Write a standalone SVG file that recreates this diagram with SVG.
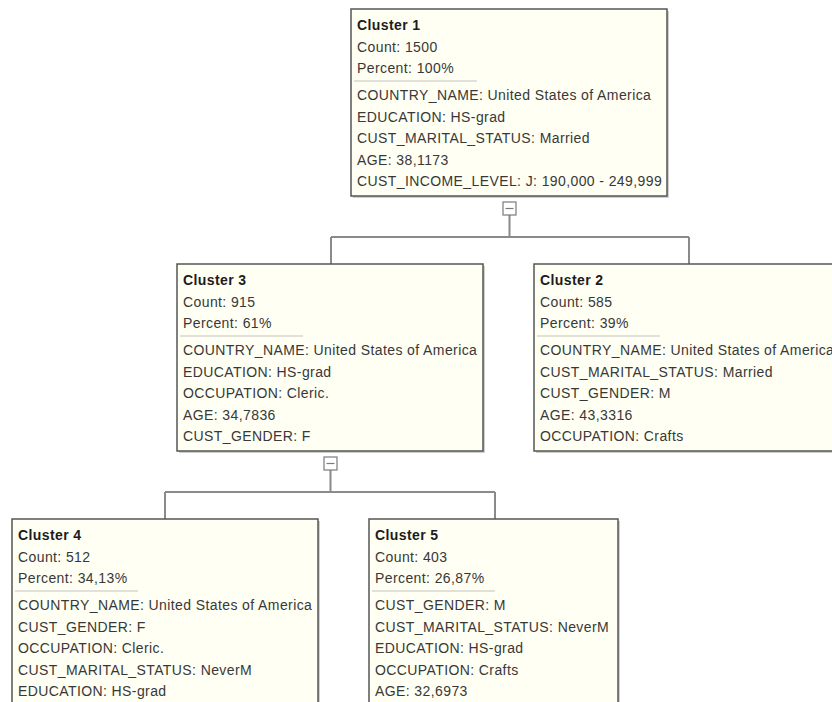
<svg xmlns="http://www.w3.org/2000/svg" width="832" height="702" viewBox="0 0 832 702">
<defs>
<style>
.box{fill:#fffff3;stroke:#555;stroke-width:1.5}
.shadow{fill:#a8a8a8;opacity:0.55}
.sep{stroke:#c4c4c0;stroke-width:1.2}
.t{font-family:"Liberation Sans",Arial,sans-serif;font-size:14px;letter-spacing:0.4px;fill:#383838}
.h{font-family:"Liberation Sans",Arial,sans-serif;font-size:14px;font-weight:bold;letter-spacing:0.4px;fill:#1c1c1c}
.conn{fill:none;stroke:#8a8a8a;stroke-width:2}
.tog{fill:#ffffff;stroke:#7a7a7a;stroke-width:1.2}
.togm{stroke:#7a7a7a;stroke-width:1.2}
</style>
</defs>
<rect width="832" height="702" fill="#ffffff"/>
<g id="connectors">
<path class="conn" d="M509.5 215 V237 M331 237 H689 M331 237 V264 M689 237 V264"/>
<path class="conn" d="M330.5 470 V492 M165 492 H495 M165 492 V519 M495 492 V519"/>
<rect class="tog" x="503" y="202" width="13" height="13"/>
<line class="togm" x1="505.5" y1="208.5" x2="513.5" y2="208.5"/>
<rect class="tog" x="324" y="457" width="13" height="13"/>
<line class="togm" x1="326.5" y1="463.5" x2="334.5" y2="463.5"/>
</g>
<g id="cluster1" transform="translate(351,9)">
<rect class="shadow" x="2" y="2" width="316" height="187"/>
<rect class="box" x="0" y="0" width="316" height="187"/>
<text class="h" x="6" y="21">Cluster 1</text>
<text class="t" x="6" y="42.5">Count: 1500</text>
<text class="t" x="6" y="64">Percent: 100%</text>
<line class="sep" x1="3" y1="72" x2="126" y2="72"/>
<text class="t" x="6" y="91">COUNTRY_NAME: United States of America</text>
<text class="t" x="6" y="112.5">EDUCATION: HS-grad</text>
<text class="t" x="6" y="134">CUST_MARITAL_STATUS: Married</text>
<text class="t" x="6" y="155.5">AGE: 38,1173</text>
<text class="t" x="6" y="177">CUST_INCOME_LEVEL: J: 190,000 - 249,999</text>
</g>
<g id="cluster3" transform="translate(177,264)">
<rect class="shadow" x="2" y="2" width="306" height="187"/>
<rect class="box" x="0" y="0" width="306" height="187"/>
<text class="h" x="6" y="21">Cluster 3</text>
<text class="t" x="6" y="42.5">Count: 915</text>
<text class="t" x="6" y="64">Percent: 61%</text>
<line class="sep" x1="3" y1="72" x2="126" y2="72"/>
<text class="t" x="6" y="91">COUNTRY_NAME: United States of America</text>
<text class="t" x="6" y="112.5">EDUCATION: HS-grad</text>
<text class="t" x="6" y="134">OCCUPATION: Cleric.</text>
<text class="t" x="6" y="155.5">AGE: 34,7836</text>
<text class="t" x="6" y="177">CUST_GENDER: F</text>
</g>
<g id="cluster2" transform="translate(534,264)">
<rect class="shadow" x="2" y="2" width="310" height="187"/>
<rect class="box" x="0" y="0" width="310" height="187"/>
<text class="h" x="6" y="21">Cluster 2</text>
<text class="t" x="6" y="42.5">Count: 585</text>
<text class="t" x="6" y="64">Percent: 39%</text>
<line class="sep" x1="3" y1="72" x2="126" y2="72"/>
<text class="t" x="6" y="91">COUNTRY_NAME: United States of America</text>
<text class="t" x="6" y="112.5">CUST_MARITAL_STATUS: Married</text>
<text class="t" x="6" y="134">CUST_GENDER: M</text>
<text class="t" x="6" y="155.5">AGE: 43,3316</text>
<text class="t" x="6" y="177">OCCUPATION: Crafts</text>
</g>
<g id="cluster4" transform="translate(12,519)">
<rect class="shadow" x="2" y="2" width="306" height="187"/>
<rect class="box" x="0" y="0" width="306" height="187"/>
<text class="h" x="6" y="21">Cluster 4</text>
<text class="t" x="6" y="42.5">Count: 512</text>
<text class="t" x="6" y="64">Percent: 34,13%</text>
<line class="sep" x1="3" y1="72" x2="126" y2="72"/>
<text class="t" x="6" y="91">COUNTRY_NAME: United States of America</text>
<text class="t" x="6" y="112.5">CUST_GENDER: F</text>
<text class="t" x="6" y="134">OCCUPATION: Cleric.</text>
<text class="t" x="6" y="155.5">CUST_MARITAL_STATUS: NeverM</text>
<text class="t" x="6" y="177">EDUCATION: HS-grad</text>
</g>
<g id="cluster5" transform="translate(369,519)">
<rect class="shadow" x="2" y="2" width="249" height="187"/>
<rect class="box" x="0" y="0" width="249" height="187"/>
<text class="h" x="6" y="21">Cluster 5</text>
<text class="t" x="6" y="42.5">Count: 403</text>
<text class="t" x="6" y="64">Percent: 26,87%</text>
<line class="sep" x1="3" y1="72" x2="126" y2="72"/>
<text class="t" x="6" y="91">CUST_GENDER: M</text>
<text class="t" x="6" y="112.5">CUST_MARITAL_STATUS: NeverM</text>
<text class="t" x="6" y="134">EDUCATION: HS-grad</text>
<text class="t" x="6" y="155.5">OCCUPATION: Crafts</text>
<text class="t" x="6" y="177">AGE: 32,6973</text>
</g>
</svg>
